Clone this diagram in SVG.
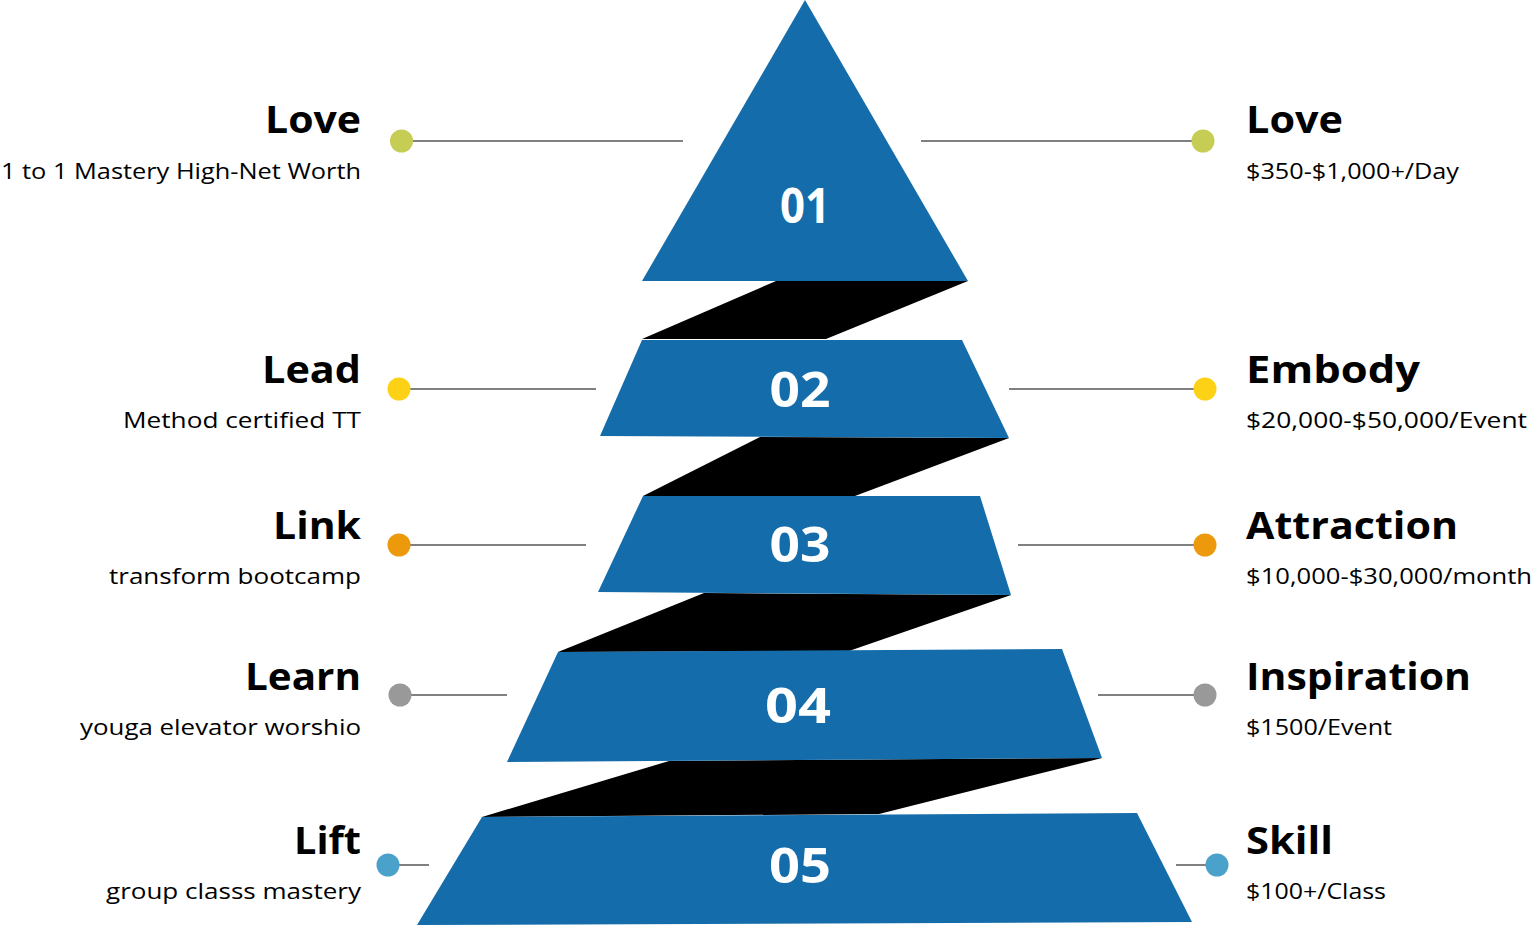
<svg xmlns="http://www.w3.org/2000/svg" width="1533" height="926" viewBox="0 0 1533 926">
<style>
.tier{fill:#156caa}
.band{fill:#000}
.num{font-family:"Open Sans","Noto Sans",sans-serif;font-weight:700;font-size:49px;fill:#fff;text-anchor:middle}
.title{font-family:"Open Sans","Noto Sans",sans-serif;font-weight:700;font-size:38px;fill:#000}
.sub{font-family:"Open Sans","Noto Sans",sans-serif;font-size:22.5px;fill:#000}
.l{text-anchor:end}
.conn line{stroke:#808080;stroke-width:2}
</style>
<rect width="1533" height="926" fill="#fff"/>
<g id="bands">
<polygon class="band" points="776,281 968,281 826,339 642,339"/>
<polygon class="band" points="760,437 1009,438 855,496 643,496"/>
<polygon class="band" points="704,593 1011,595 849,651 558,652"/>
<polygon class="band" points="669,761 1102,758 879,814 482,817"/>
</g>
<g id="tier1"><polygon class="tier" points="805,0 968,281 642,281"/><text class="num" x="805" y="223" textLength="50" lengthAdjust="spacingAndGlyphs">01</text></g>
<g id="tier2"><polygon class="tier" points="642,340 962,340 1009,438 600,436"/><text class="num" x="800" y="407" textLength="61" lengthAdjust="spacingAndGlyphs">02</text></g>
<g id="tier3"><polygon class="tier" points="643,496 980,496 1011,595 598,592"/><text class="num" x="800" y="562" textLength="61" lengthAdjust="spacingAndGlyphs">03</text></g>
<g id="tier4"><polygon class="tier" points="558,652 1062,649 1102,758 507,762"/><text class="num" x="798" y="723" textLength="66" lengthAdjust="spacingAndGlyphs">04</text></g>
<g id="tier5"><polygon class="tier" points="482,817 1137,813 1192,922 417,925"/><text class="num" x="800" y="883" textLength="62" lengthAdjust="spacingAndGlyphs">05</text></g>
<g id="connectors" class="conn">
<line x1="401" y1="141" x2="683" y2="141"/>
<line x1="921" y1="141" x2="1203" y2="141"/>
<line x1="399" y1="389" x2="596" y2="389"/>
<line x1="1009" y1="389" x2="1205" y2="389"/>
<line x1="399" y1="545" x2="586" y2="545"/>
<line x1="1018" y1="545" x2="1205" y2="545"/>
<line x1="400" y1="695" x2="507" y2="695"/>
<line x1="1098" y1="695" x2="1205" y2="695"/>
<line x1="388" y1="865" x2="429" y2="865"/>
<line x1="1176" y1="865" x2="1217" y2="865"/>
</g>
<g id="left-love"><circle cx="401.5" cy="141" r="11.5" fill="#c5cd55"/><text class="title l" x="361" y="133" textLength="96" lengthAdjust="spacingAndGlyphs">Love</text><text class="sub l" x="361" y="179" textLength="360" lengthAdjust="spacingAndGlyphs">1 to 1 Mastery High-Net Worth</text></g>
<g id="left-lead"><circle cx="399" cy="389" r="11.5" fill="#fcd116"/><text class="title l" x="361" y="383" textLength="99" lengthAdjust="spacingAndGlyphs">Lead</text><text class="sub l" x="361" y="428" textLength="238" lengthAdjust="spacingAndGlyphs">Method certified TT</text></g>
<g id="left-link"><circle cx="399" cy="545" r="11.5" fill="#ec9a0c"/><text class="title l" x="361" y="539" textLength="88" lengthAdjust="spacingAndGlyphs">Link</text><text class="sub l" x="361" y="584" textLength="252" lengthAdjust="spacingAndGlyphs">transform bootcamp</text></g>
<g id="left-learn"><circle cx="400" cy="695" r="11.5" fill="#999999"/><text class="title l" x="361" y="690" textLength="116" lengthAdjust="spacingAndGlyphs">Learn</text><text class="sub l" x="361" y="735" textLength="281" lengthAdjust="spacingAndGlyphs">youga elevator worshio</text></g>
<g id="left-lift"><circle cx="388" cy="865" r="11.5" fill="#4aa2cb"/><text class="title l" x="361" y="854" textLength="67" lengthAdjust="spacingAndGlyphs">Lift</text><text class="sub l" x="361" y="899" textLength="255" lengthAdjust="spacingAndGlyphs">group classs mastery</text></g>
<g id="right-love"><circle cx="1203" cy="141" r="11.5" fill="#c5cd55"/><text class="title" x="1246" y="133" textLength="97" lengthAdjust="spacingAndGlyphs">Love</text><text class="sub" x="1246" y="179" textLength="213" lengthAdjust="spacingAndGlyphs">$350-$1,000+/Day</text></g>
<g id="right-embody"><circle cx="1205" cy="389" r="11.5" fill="#fcd116"/><text class="title" x="1246" y="383" textLength="174" lengthAdjust="spacingAndGlyphs">Embody</text><text class="sub" x="1246" y="428" textLength="281" lengthAdjust="spacingAndGlyphs">$20,000-$50,000/Event</text></g>
<g id="right-attraction"><circle cx="1205" cy="545" r="11.5" fill="#ec9a0c"/><text class="title" x="1246" y="539" textLength="212" lengthAdjust="spacingAndGlyphs">Attraction</text><text class="sub" x="1246" y="584" textLength="286" lengthAdjust="spacingAndGlyphs">$10,000-$30,000/month</text></g>
<g id="right-inspiration"><circle cx="1205" cy="695" r="11.5" fill="#999999"/><text class="title" x="1246" y="690" textLength="225" lengthAdjust="spacingAndGlyphs">Inspiration</text><text class="sub" x="1246" y="735" textLength="146" lengthAdjust="spacingAndGlyphs">$1500/Event</text></g>
<g id="right-skill"><circle cx="1217" cy="865" r="11.5" fill="#4aa2cb"/><text class="title" x="1246" y="854" textLength="87" lengthAdjust="spacingAndGlyphs">Skill</text><text class="sub" x="1246" y="899" textLength="140" lengthAdjust="spacingAndGlyphs">$100+/Class</text></g>
</svg>
